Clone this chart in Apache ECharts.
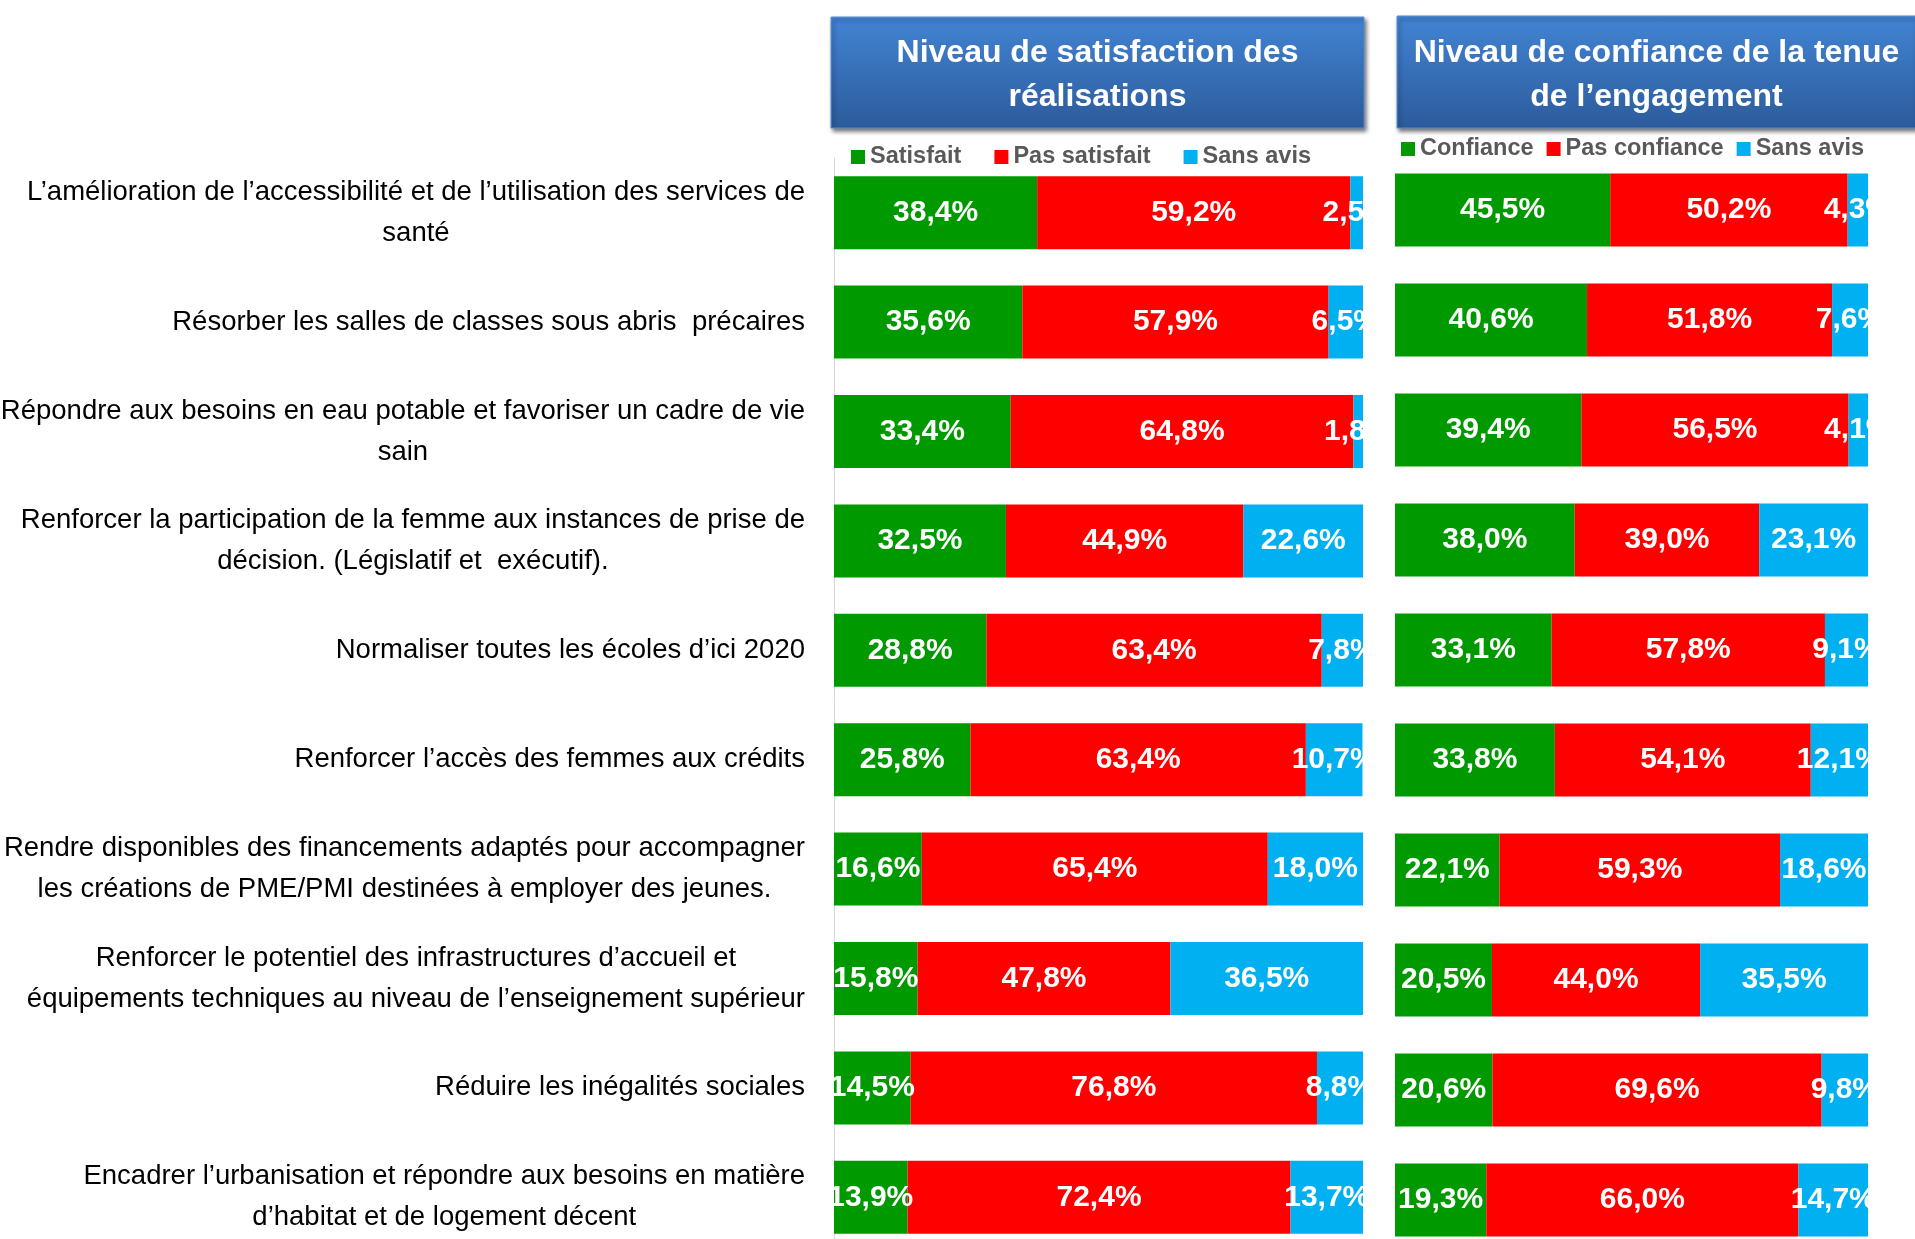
<!DOCTYPE html>
<html>
<head>
<meta charset="utf-8">
<title>Satisfaction et confiance</title>
<script src="https://cdn.jsdelivr.net/npm/echarts@6.0.0/dist/echarts.min.js"></script>
<style>
  html, body { margin: 0; padding: 0; background: #fff; }
  #chart { width: 1915px; height: 1239px; }
</style>
</head>
<body>
<div id="chart"></div>
<script>
// engagements (du haut vers le bas)
const categories = [
    'L’amélioration de l’accessibilité et de l’utilisation des services de\nsanté',
    'Résorber les salles de classes sous abris  précaires',
    'Répondre aux besoins en eau potable et favoriser un cadre de vie\nsain',
    'Renforcer la participation de la femme aux instances de prise de\ndécision. (Législatif et  exécutif).',
    'Normaliser toutes les écoles d’ici 2020',
    'Renforcer l’accès des femmes aux crédits',
    'Rendre disponibles des financements adaptés pour accompagner\nles créations de PME/PMI destinées à employer des jeunes.',
    'Renforcer le potentiel des infrastructures d’accueil et\néquipements techniques au niveau de l’enseignement supérieur',
    'Réduire les inégalités sociales',
    'Encadrer l’urbanisation et répondre aux besoins en matière\nd’habitat et de logement décent'
];

// niveau de satisfaction des réalisations (%)
const satisfait = [38.4, 35.6, 33.4, 32.5, 28.8, 25.8, 16.6, 15.8, 14.5, 13.9];
const pasSatisfait = [59.2, 57.9, 64.8, 44.9, 63.4, 63.4, 65.4, 47.8, 76.8, 72.4];
const sansAvisSatisfaction = [2.5, 6.5, 1.8, 22.6, 7.8, 10.7, 18.0, 36.5, 8.8, 13.7];

// niveau de confiance de la tenue de l'engagement (%)
const confiance = [45.5, 40.6, 39.4, 38.0, 33.1, 33.8, 22.1, 20.5, 20.6, 19.3];
const pasConfiance = [50.2, 51.8, 56.5, 39.0, 57.8, 54.1, 59.3, 44.0, 69.6, 66.0];
const sansAvisConfiance = [4.3, 7.6, 4.1, 23.1, 9.1, 12.1, 18.6, 35.5, 9.8, 14.7];

const font = "'Liberation Sans', Arial, sans-serif";
const VERT = '#009900';
const ROUGE = '#ff0000';
const BLEU = '#00b0f0';

const chart = echarts.init(document.getElementById('chart'));

// étiquette blanche au centre de chaque segment, virgule décimale
const barLabel = {
    show: true,
    position: 'inside',
    color: '#fff',
    fontFamily: font,
    fontSize: 30,
    fontWeight: 'bold',
    textBorderWidth: 0,
    formatter: (p) => p.value.toFixed(1).replace('.', ',') + '%'
};

const makeSeries = (name, data, color, idx, stack, barWidth) => ({
    name: name,
    type: 'bar',
    stack: stack,
    xAxisIndex: idx,
    yAxisIndex: idx,
    barWidth: barWidth,
    data: data,
    itemStyle: { color: color },
    label: barLabel,
    emphasis: { disabled: true }
});

// bandeau bleu en dégradé au-dessus de chaque graphique
const header = (x, y, w, h, text) => ({
    type: 'group',
    children: [
        {
            type: 'rect',
            shape: { x: x, y: y, width: w, height: h },
            style: {
                fill: new echarts.graphic.LinearGradient(0, 0, 0, 1, [
                    { offset: 0, color: '#4284d4' },
                    { offset: 1, color: '#2c5b9b' }
                ]),
                stroke: '#5a8fd4',
                lineWidth: 1,
                shadowBlur: 4,
                shadowOffsetX: 2,
                shadowOffsetY: 3,
                shadowColor: 'rgba(0,0,0,0.55)'
            }
        },
        {
            type: 'text',
            x: x + w / 2,
            y: y + h / 2 + 3,
            style: {
                text: text,
                fill: '#fff',
                fontFamily: font,
                fontSize: 32,
                fontWeight: 'bold',
                lineHeight: 44,
                align: 'center',
                verticalAlign: 'middle'
            }
        }
    ]
});

const legendText = { color: '#595959', fontFamily: font, fontSize: 23.5, fontWeight: 'bold' };

const options = {
    animation: false,
    backgroundColor: '#fff',
    graphic: [
        header(831, 17, 533, 111, 'Niveau de satisfaction des\nréalisations'),
        header(1397, 16, 519, 112, 'Niveau de confiance de la tenue\nde l’engagement')
    ],
    legend: [
        {
            data: ['Satisfait', 'Pas satisfait', 'Sans avis'],
            left: 846,
            top: 140,
            width: 540,
            icon: 'rect',
            itemWidth: 14,
            itemHeight: 14,
            itemGap: 33,
            textStyle: legendText
        },
        {
            data: ['Confiance', 'Pas confiance', 'Sans avis'],
            left: 1396,
            top: 132,
            width: 515,
            icon: 'rect',
            itemWidth: 14,
            itemHeight: 14,
            itemGap: 13,
            textStyle: legendText
        }
    ],
    grid: [
        { left: 834, top: 158, width: 529, height: 1094, outerBoundsMode: 'none' },
        { left: 1395, top: 155, width: 473, height: 1100, outerBoundsMode: 'none' }
    ],
    xAxis: [
        { gridIndex: 0, type: 'value', min: 0, max: 100, show: false },
        { gridIndex: 1, type: 'value', min: 0, max: 100, show: false }
    ],
    yAxis: [
        {
            gridIndex: 0,
            type: 'category',
            inverse: true,
            data: categories,
            axisLine: { show: true, lineStyle: { color: '#d9d9d9', width: 1 } },
            axisTick: { show: false },
            axisLabel: {
                interval: 0,
                margin: 29,
                formatter: (value) => value.split('\n').map((l) => '{c|' + l + '}').join('\n'),
                rich: {
                    c: {
                        align: 'center',
                        color: '#000',
                        fontFamily: font,
                        fontSize: 27.5,
                        lineHeight: 41
                    }
                }
            }
        },
        {
            gridIndex: 1,
            type: 'category',
            inverse: true,
            data: categories,
            axisLine: { show: false },
            axisTick: { show: false },
            axisLabel: { show: false }
        }
    ],
    series: [
        makeSeries('Satisfait', satisfait, VERT, 0, 'sat', 73),
        makeSeries('Pas satisfait', pasSatisfait, ROUGE, 0, 'sat', 73),
        makeSeries('Sans avis', sansAvisSatisfaction, BLEU, 0, 'sat', 73),
        makeSeries('Confiance', confiance, VERT, 1, 'conf', 73),
        makeSeries('Pas confiance', pasConfiance, ROUGE, 1, 'conf', 73),
        makeSeries('Sans avis', sansAvisConfiance, BLEU, 1, 'conf', 73)
    ]
};

chart.setOption(options);
</script>
</body>
</html>
